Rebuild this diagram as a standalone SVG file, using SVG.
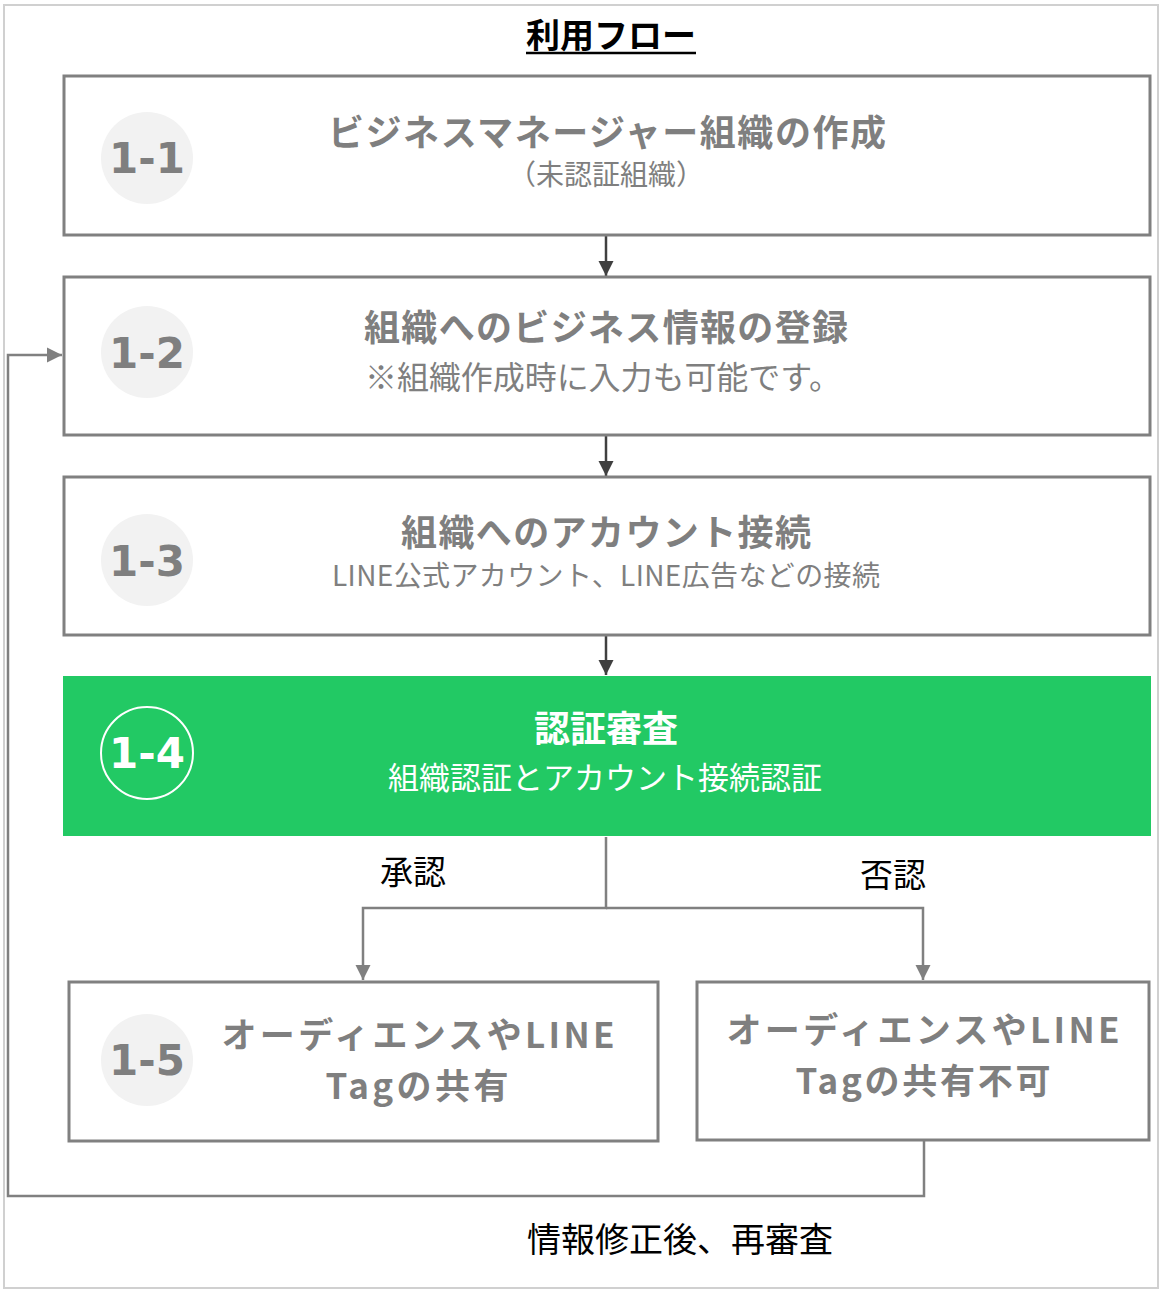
<svg xmlns="http://www.w3.org/2000/svg" width="1164" height="1292" viewBox="0 0 1164 1292">
<style>
.frame{fill:#fff;stroke:#d0d0d0;stroke-width:2}
.box{fill:#fff;stroke:#808080;stroke-width:3}
.green{fill:#22c964}
.badge{fill:#f2f2f2}
.num{font-family:"DejaVu Sans",Verdana,sans-serif;font-weight:bold;font-size:42px;fill:#7f7f7f;text-anchor:middle}
.jp{font-family:"Noto Sans CJK JP","Noto Sans",sans-serif;text-anchor:middle}
.ttl{font-weight:bold;font-size:36px;fill:#7f7f7f}
.ttl2{font-weight:bold;font-size:35px;fill:#7f7f7f}
.sub{font-size:28px;fill:#7f7f7f}
.w{fill:#fff}
.lbl{font-size:33px;fill:#000}
.dark{stroke:#404040;stroke-width:2.5;fill:none}
.gray{stroke:#808080;stroke-width:2.5;fill:none}
</style>
<defs>
<marker id="ad" viewBox="0 0 10 10" refX="10" refY="5" markerWidth="6" markerHeight="6.5" orient="auto" markerUnits="strokeWidth"><path d="M0,0 L10,5 L0,10 z" fill="#404040"/></marker>
<marker id="ag" viewBox="0 0 10 10" refX="10" refY="5" markerWidth="6" markerHeight="6.5" orient="auto" markerUnits="strokeWidth"><path d="M0,0 L10,5 L0,10 z" fill="#808080"/></marker>
</defs>
<rect class="frame" x="4" y="5" width="1154" height="1283"/>
<g id="title">
<text class="jp" x="611" y="48" style="font-size:34px" font-weight="bold" fill="#000" textLength="170">利用フロー</text>
<line x1="526" y1="53" x2="696" y2="53" stroke="#000" stroke-width="2.5"/>
</g>
<g id="connectors">
<line class="dark" x1="606" y1="236" x2="606" y2="276" marker-end="url(#ad)"/>
<line class="dark" x1="606" y1="436" x2="606" y2="476" marker-end="url(#ad)"/>
<line class="dark" x1="606" y1="636" x2="606" y2="675" marker-end="url(#ad)"/>
<polyline class="gray" points="606,837 606,908 363,908 363,980" marker-end="url(#ag)"/>
<polyline class="gray" points="606,908 923,908 923,980" marker-end="url(#ag)"/>
<polyline class="gray" points="924,1141 924,1196 8,1196 8,355 62,355" marker-end="url(#ag)"/>
</g>
<g id="n1">
<rect class="box" x="64" y="76" width="1086" height="159"/>
<circle class="badge" cx="147" cy="158" r="46"/>
<text class="num" x="147" y="173">1-1</text>
<text class="jp ttl" x="607" y="146" textLength="558">ビジネスマネージャー組織の作成</text>
<text class="jp sub" x="606" y="185">（未認証組織）</text>
</g>
<g id="n2">
<rect class="box" x="64" y="277" width="1086" height="158"/>
<circle class="badge" cx="147" cy="352" r="46"/>
<text class="num" x="147" y="368">1-2</text>
<text class="jp ttl" x="606" y="341" textLength="484">組織へのビジネス情報の登録</text>
<text class="jp sub" x="603" y="389" style="font-size:32px" textLength="476">※組織作成時に入力も可能です。</text>
</g>
<g id="n3">
<rect class="box" x="64" y="477" width="1086" height="158"/>
<circle class="badge" cx="147" cy="560" r="46"/>
<text class="num" x="147" y="576">1-3</text>
<text class="jp ttl" x="606" y="546" textLength="410">組織へのアカウント接続</text>
<text class="jp sub" x="606" y="586" textLength="548">LINE公式アカウント、LINE広告などの接続</text>
</g>
<g id="n4">
<rect class="green" x="63" y="676" width="1088" height="160"/>
<circle cx="147" cy="753" r="46" fill="none" stroke="#fff" stroke-width="2"/>
<text class="num w" x="147" y="768">1-4</text>
<text class="jp ttl w" x="606" y="742">認証審査</text>
<text class="jp sub w" x="605" y="789" style="font-size:31px" textLength="434">組織認証とアカウント接続認証</text>
</g>
<g id="labels">
<text class="jp lbl" x="413" y="884">承認</text>
<text class="jp lbl" x="893" y="887">否認</text>
<text class="jp lbl" x="680" y="1252" style="font-size:34px">情報修正後、再審査</text>
</g>
<g id="n5">
<rect class="box" x="69" y="982" width="589" height="159"/>
<circle class="badge" cx="147" cy="1060" r="46"/>
<text class="num" x="147" y="1075">1-5</text>
<text class="jp ttl2" x="418" y="1048" textLength="393">オーディエンスやLINE</text>
<text class="jp ttl2" x="417" y="1099" textLength="183">Tagの共有</text>
</g>
<g id="n6">
<rect class="box" x="697" y="982" width="452" height="158"/>
<text class="jp ttl2" x="923" y="1043" textLength="393">オーディエンスやLINE</text>
<text class="jp ttl2" x="923" y="1094" textLength="255">Tagの共有不可</text>
</g>
</svg>
